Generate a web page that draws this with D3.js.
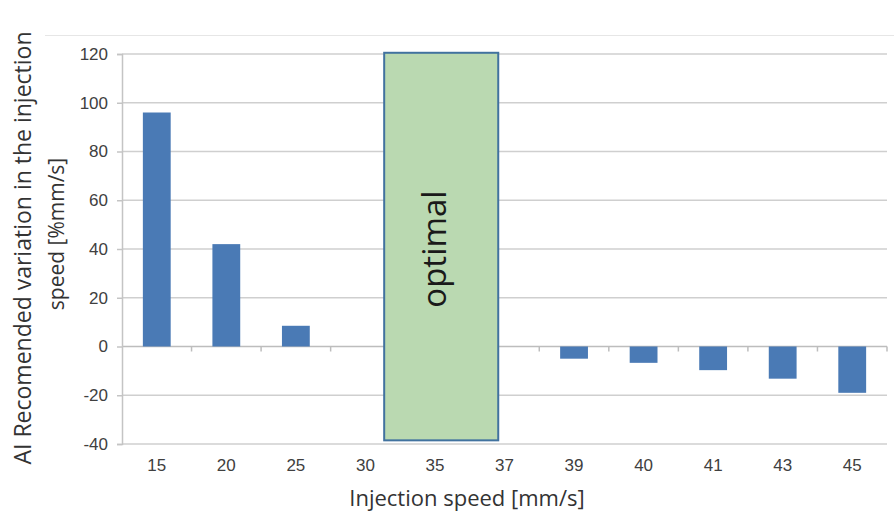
<!DOCTYPE html>
<html>
<head>
<meta charset="utf-8">
<script src="https://cdn.jsdelivr.net/npm/d3@7"></script>
<style>
  body { margin: 0; background: #fff; }
  svg { display: block; }
  .tick text { font-family: "Liberation Sans", Arial, sans-serif; }
</style>
</head>
<body>
<svg width="894" height="517"></svg>
<script>
var svg = d3.select("svg");

// data
var categories = ["15", "20", "25", "30", "35", "37", "39", "40", "41", "43", "45"];
var values = [96, 42, 8.5, null, null, null, -5, -6.7, -9.7, -13.2, -19];
var yTicks = [-40, -20, 0, 20, 40, 60, 80, 100, 120];
// optimal band, in category-step units from the left edge, and value range
var optimalSpan = [3.77, 5.41];
var optimalValues = [-38.5, 120.5];

var plotLeft = 122, plotRight = 887, plotTop = 54, plotBottom = 444;

var x = d3.scaleBand()
    .domain(categories)
    .range([plotLeft, plotRight])
    .paddingInner(0.6)
    .paddingOuter(0.3);

var y = d3.scaleLinear()
    .domain([-40, 120])
    .range([plotBottom, plotTop]);

var step = x.step();
var rangeStart = x.range()[0];

var titleFont = "'Open Sans', 'Noto Sans', sans-serif";

// faint outer frame line at top
svg.append("line")
    .attr("x1", 45).attr("x2", 894)
    .attr("y1", 35.5).attr("y2", 35.5)
    .attr("stroke", "#e6e6e6")
    .attr("stroke-width", 1);

// gridlines
svg.append("g")
    .attr("class", "grid")
    .selectAll("line")
    .data(yTicks)
    .enter().append("line")
    .attr("x1", plotLeft).attr("x2", plotRight)
    .attr("y1", function (d) { return y(d); })
    .attr("y2", function (d) { return y(d); })
    .attr("stroke", function (d) { return d === 0 ? "#bdbdbd" : "#cfcfcf"; })
    .attr("stroke-width", 1.5);

// y axis (plain hyphen for negatives, like the original)
var yAxis = svg.append("g")
    .attr("transform", "translate(" + plotLeft + ",0)")
    .call(d3.axisLeft(y).tickValues(yTicks).tickSize(5).tickPadding(9)
        .tickFormat(function (d) { return String(d); }));
yAxis.select(".domain").attr("stroke", "#c4c4c4").attr("stroke-width", 1.5);
yAxis.selectAll(".tick line").attr("stroke", "#c4c4c4").attr("stroke-width", 1.5);
yAxis.selectAll(".tick text")
    .attr("font-size", 17)
    .attr("fill", "#404040");

// bars
svg.append("g")
    .attr("class", "bars")
    .selectAll("rect")
    .data(categories.map(function (c, i) { return { cat: c, v: values[i] }; })
        .filter(function (d) { return d.v !== null; }))
    .enter().append("rect")
    .attr("x", function (d) { return x(d.cat); })
    .attr("width", x.bandwidth())
    .attr("y", function (d) { return y(Math.max(0, d.v)); })
    .attr("height", function (d) { return Math.abs(y(d.v) - y(0)); })
    .attr("fill", "#4a7ab5");

// category boundary ticks on zero line
svg.append("g")
    .selectAll("line")
    .data(d3.range(1, categories.length + 1))
    .enter().append("line")
    .attr("x1", function (d) { return rangeStart + d * step; })
    .attr("x2", function (d) { return rangeStart + d * step; })
    .attr("y1", y(0))
    .attr("y2", y(0) + 5)
    .attr("stroke", "#bdbdbd")
    .attr("stroke-width", 1.5);

// x labels along bottom
var xAxis = svg.append("g")
    .attr("transform", "translate(0," + plotBottom + ")")
    .call(d3.axisBottom(x).tickSize(0).tickPadding(15));
xAxis.select(".domain").remove();
xAxis.selectAll(".tick text")
    .attr("font-size", 17)
    .attr("fill", "#404040");

// optimal box
var ox0 = rangeStart + optimalSpan[0] * step,
    ox1 = rangeStart + optimalSpan[1] * step;
svg.append("rect")
    .attr("x", ox0)
    .attr("y", y(optimalValues[1]))
    .attr("width", ox1 - ox0)
    .attr("height", y(optimalValues[0]) - y(optimalValues[1]))
    .attr("fill", "#bad9b1")
    .attr("stroke", "#41729f")
    .attr("stroke-width", 2);

svg.append("text")
    .attr("transform", "translate(" + ((ox0 + ox1) / 2 + 5) + "," + y(40) + ") rotate(-90)")
    .attr("text-anchor", "middle")
    .attr("font-family", titleFont)
    .attr("font-size", 33)
    .attr("fill", "#1a1a1a")
    .text("optimal");

// axis titles
svg.append("text")
    .attr("x", 467)
    .attr("y", 506)
    .attr("text-anchor", "middle")
    .attr("font-family", titleFont)
    .attr("font-size", 22)
    .attr("fill", "#333")
    .text("Injection speed [mm/s]");

svg.append("text")
    .attr("transform", "translate(31,248) rotate(-90)")
    .attr("text-anchor", "middle")
    .attr("font-family", titleFont)
    .attr("font-size", 23)
    .attr("fill", "#333")
    .text("AI Recomended variation in the injection");

svg.append("text")
    .attr("transform", "translate(64,234) rotate(-90)")
    .attr("text-anchor", "middle")
    .attr("font-family", titleFont)
    .attr("font-size", 21)
    .attr("fill", "#333")
    .text("speed [%mm/s]");
</script>
</body>
</html>
